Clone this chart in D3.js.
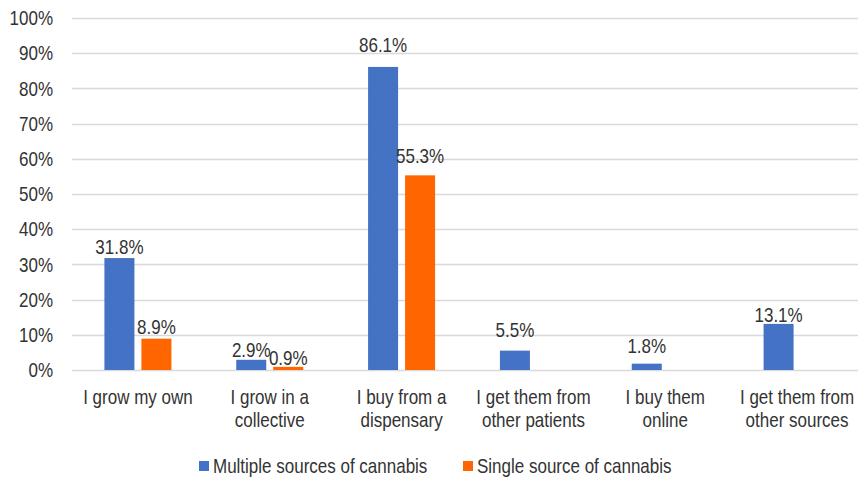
<!DOCTYPE html>
<html>
<head>
<meta charset="utf-8">
<script src="https://cdn.jsdelivr.net/npm/d3@7"></script>
<style>
  body { margin: 0; background: #fff; }
  text { font-family: "Liberation Sans", Arial, sans-serif; fill: #333; font-size: 20px; }
</style>
</head>
<body>
<svg id="chart"></svg>
<script>
const categories = [
    ["I grow my own"],
    ["I grow in a", "collective"],
    ["I buy from a", "dispensary"],
    ["I get them from", "other patients"],
    ["I buy them", "online"],
    ["I get them from", "other sources"]
];
const seriesNames = ["Multiple sources of cannabis", "Single source of cannabis"];
const multipleValues = [31.8, 2.9, 86.1, 5.5, 1.8, 13.1];
const singleValues = [8.9, 0.9, 55.3, null, null, null];
const yTicks = [0, 10, 20, 30, 40, 50, 60, 70, 80, 90, 100];
const colors = ["#4472C4", "#FF6600"];

// the labels were dragged by hand in the original, so each has its own lift
const labelLift = [[4, 3, 15, 14, 11, 2], [5, 2, 12]];

const width = 858, height = 482;
const margin = { top: 18, left: 72, right: -5, bottom: 112 };
const squeeze = 0.85; // narrow font look

const svg = d3.select("#chart").attr("width", width).attr("height", height);

const x = d3.scaleBand()
    .domain(d3.range(categories.length))
    .range([margin.left, width - margin.right]);

const y = d3.scaleLinear()
    .domain([0, 100])
    .range([height - margin.bottom, margin.top]);

// put a narrow text at x,y
function place(sel, fx, fy) {
    sel.attr("transform", (d, i) => `translate(${fx(d, i)},${fy(d, i)}) scale(${squeeze},1)`);
}

// gridlines
svg.append("g")
    .selectAll("line")
    .data(yTicks)
    .join("line")
    .attr("x1", margin.left)
    .attr("x2", width)
    .attr("y1", d => Math.round(y(d)) + 0.5)
    .attr("y2", d => Math.round(y(d)) + 0.5)
    .attr("stroke", "#d9d9d9")
    .attr("stroke-width", 1.5);

// y labels
svg.append("g")
    .selectAll("text")
    .data(yTicks)
    .join("text")
    .call(place, () => 53, d => y(d))
    .attr("dy", "0.36em")
    .attr("text-anchor", "end")
    .text(d => d + "%");

const barW = 30, gap = 7;
const series = [multipleValues, singleValues];

series.forEach((vals, si) => {
    const data = vals.map((v, i) => ({ i, v })).filter(d => d.v != null);
    const off = si === 0 ? -(barW + gap / 2) : gap / 2;
    const g = svg.append("g");
    g.selectAll("rect")
        .data(data)
        .join("rect")
        .attr("x", d => x(d.i) + x.bandwidth() / 2 + off)
        .attr("y", d => y(d.v))
        .attr("width", barW)
        .attr("height", d => y(0) - y(d.v))
        .attr("fill", colors[si]);
    g.selectAll("text")
        .data(data)
        .join("text")
        .call(place, d => x(d.i) + x.bandwidth() / 2 + off + barW / 2,
            (d, k) => y(d.v) - labelLift[si][k])
        .attr("text-anchor", "middle")
        .text(d => d.v.toFixed(1) + "%");
});

// category labels
const cat = svg.append("g")
    .selectAll("text")
    .data(categories)
    .join("text")
    .call(place, (d, i) => x(i) + x.bandwidth() / 2, () => 404)
    .attr("text-anchor", "middle");
cat.selectAll("tspan")
    .data(d => d)
    .join("tspan")
    .attr("x", 0)
    .attr("dy", (d, i) => i === 0 ? 0 : 23)
    .text(d => d);

// legend
const legendX = [199, 463];
const legend = svg.append("g")
    .selectAll("g")
    .data(seriesNames)
    .join("g")
    .attr("transform", (d, i) => `translate(${legendX[i]},466)`);
legend.append("rect")
    .attr("x", 0).attr("y", -5)
    .attr("width", 10).attr("height", 10)
    .attr("fill", (d, i) => colors[i]);
legend.append("text")
    .call(place, () => 14, () => 0)
    .attr("dy", "0.36em")
    .text(d => d);
</script>
</body>
</html>
